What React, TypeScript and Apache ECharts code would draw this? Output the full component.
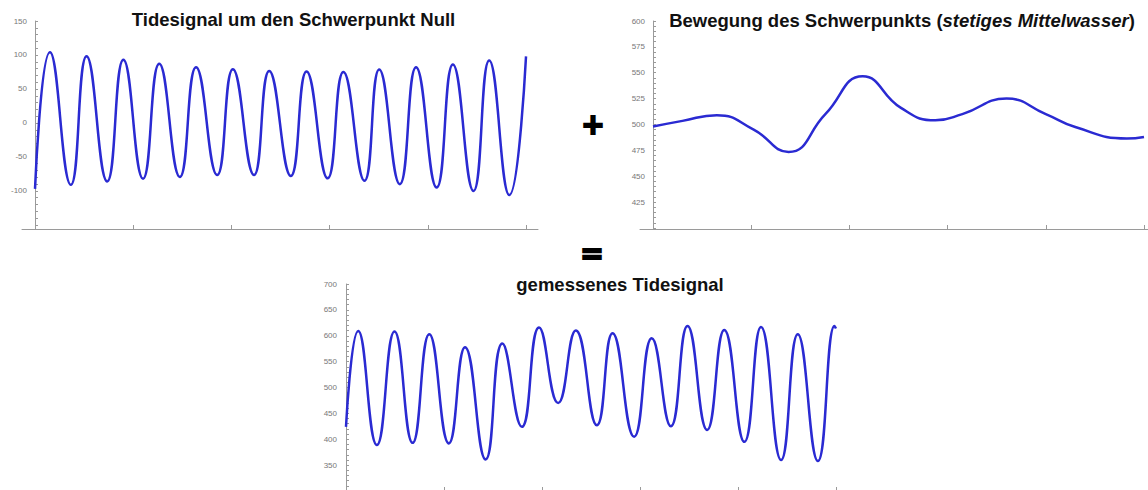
import React, { useEffect, useRef } from "react";
import * as echarts from "echarts";

// ---- data ----
// Top-left: tide signal around zero (x in sample units, ticks every 200)
const tideX = [0, 30.5, 73, 105, 147, 180, 220, 253, 295, 328, 371, 403, 446, 477, 521, 553, 596, 628, 671, 701, 743, 776, 818, 851, 893, 925, 966, 1000];
const tideY = [-97, 104, -91, 98, -86, 93, -82, 87, -79.5, 82, -76.6, 79, -76.6, 76.6, -78, 75.6, -81.5, 75, -85, 78.5, -90, 82, -95, 86, -100, 92, -106, 98];

// Top-right: movement of the centre of gravity (mean water level)
const meanX = [0, 60, 130, 205, 276, 351, 427, 505, 575, 630, 720, 800, 860, 965, 1000];
const meanY = [498, 503.5, 509, 495, 473.5, 510, 546.5, 516, 504, 510, 525, 510, 497.5, 486.5, 488];

// Bottom: measured tide signal
const measX = [0, 25, 63, 99, 136, 170, 210, 243, 285, 319, 359, 394, 433, 469, 512, 544, 588, 624, 663, 697, 737, 772, 813, 847, 888, 922, 963, 997, 1000];
const measY = [424, 609, 389, 608, 393, 603, 392, 578, 361, 585, 424, 616, 470, 610, 427, 605, 405, 595, 425, 619, 418, 611, 395, 617, 360, 603, 358, 619, 614];

// tick labels
const xTicks = [0, 200, 400, 600, 800, 1000];
const tideLabels = [-100, -50, 0, 50, 100, 150];
const meanLabels = [425, 450, 475, 500, 525, 550, 575, 600];
const measLabels = [350, 400, 450, 500, 550, 600, 650, 700];

const titleTide = "Tidesignal um den Schwerpunkt Null";
const titleMeanA = "Bewegung des Schwerpunkts (";
const titleMeanB = "stetiges Mittelwasser";
const titleMeanC = ")";
const titleMeas = "gemessenes Tidesignal";

const FONT = "'Liberation Sans', Arial, Helvetica, sans-serif";
const LINE = "#2a2ad2";
const AXIS = "#9a9a9a";
const TSIZE = 18.5;

function range(a: number, b: number, s: number) {
  const r: number[] = [];
  for (let v = a; v <= b + 1e-9; v += s) r.push(v);
  return r;
}

function pairs(xs: number[], ys: number[]) {
  return xs.map((x, i) => [x, ys[i]]);
}

export default function App() {
  const ref = useRef<HTMLDivElement>(null);
  useEffect(() => {
    if (!ref.current) return;
    const chart = echarts.init(ref.current, undefined, { renderer: "svg" });
    const xMax = [1024.4, 1032.6, 1024.5];
    const yDefs = [
      { min: -156, max: 150, labels: tideLabels, ticks: range(-150, 150, 10), margin: -5 },
      { min: 399, max: 600, labels: meanLabels, ticks: range(400, 600, 5), margin: -5 },
      { min: 300, max: 700, labels: measLabels, ticks: range(300, 700, 10), margin: -4 },
    ];
    const option: any = {
      animation: false,
      grid: [
        { left: 22, right: 610, top: 21, bottom: 261, outerBoundsMode: "none", containLabel: false },
        { left: 640, right: -12, top: 21, bottom: 261, outerBoundsMode: "none", containLabel: false },
        { left: 333, right: 300, top: 284, bottom: -1, outerBoundsMode: "none", containLabel: false },
      ],
      xAxis: [0, 1, 2].map((i) => ({
        type: "value",
        gridIndex: i,
        min: -26.5,
        max: xMax[i],
        axisLine: { onZero: false, lineStyle: { color: AXIS, width: 1 } },
        axisTick: { inside: true, length: 4, customValues: xTicks, lineStyle: { color: AXIS } },
        axisLabel: { show: false },
        splitLine: { show: false },
      })),
      yAxis: yDefs.map((d, i) => ({
        type: "value",
        gridIndex: i,
        min: d.min,
        max: d.max,
        axisLine: { show: true, onZero: true, lineStyle: { color: AXIS, width: 1 } },
        axisTick: { show: true, inside: true, length: 3, customValues: d.ticks, lineStyle: { color: AXIS } },
        axisLabel: {
          show: true,
          customValues: d.labels,
          margin: d.margin,
          fontSize: 8,
          color: "#777",
          fontFamily: FONT,
        },
        splitLine: { show: false },
      })),
      series: [
        { data: pairs(tideX, tideY), idx: 0 },
        { data: pairs(meanX, meanY), idx: 1 },
        { data: pairs(measX, measY), idx: 2 },
      ].map((s) => ({
        type: "line",
        xAxisIndex: s.idx,
        yAxisIndex: s.idx,
        data: s.data,
        smooth: 0.5,
        showSymbol: false,
        lineStyle: { color: LINE, width: 2.5 },
      })),
      graphic: [
        {
          type: "text",
          x: 293.5,
          y: 19.5,
          style: {
            text: titleTide,
            fontSize: TSIZE,
            fontWeight: "bold",
            fontFamily: FONT,
            fill: "#111",
            align: "center",
            verticalAlign: "middle",
          },
        },
        {
          type: "text",
          x: 902,
          y: 20.5,
          style: {
            text: `{n|${titleMeanA}}{i|${titleMeanB}}{n|${titleMeanC}}`,
            fontSize: TSIZE,
            fontWeight: "bold",
            fontFamily: FONT,
            fill: "#111",
            align: "center",
            verticalAlign: "middle",
            rich: {
              n: { fontSize: TSIZE, fontWeight: "bold", fontFamily: FONT, fill: "#111" },
              i: { fontSize: TSIZE, fontWeight: "bold", fontStyle: "italic", fontFamily: FONT, fill: "#111" },
            },
          },
        },
        {
          type: "text",
          x: 620,
          y: 284.5,
          style: {
            text: titleMeas,
            fontSize: TSIZE,
            fontWeight: "bold",
            fontFamily: FONT,
            fill: "#111",
            align: "center",
            verticalAlign: "middle",
          },
        },
        {
          type: "text",
          x: 593,
          y: 124,
          style: {
            text: "+",
            fontSize: 28,
            fontWeight: "bold",
            fontFamily: "'DejaVu Sans', sans-serif",
            fill: "#000",
            stroke: "#000",
            lineWidth: 2,
            align: "center",
            verticalAlign: "middle",
          },
        },
        {
          type: "text",
          x: 592,
          y: 253,
          style: {
            text: "=",
            fontSize: 28,
            fontWeight: "bold",
            fontFamily: "'DejaVu Sans', sans-serif",
            fill: "#000",
            stroke: "#000",
            lineWidth: 2,
            align: "center",
            verticalAlign: "middle",
          },
        },
      ],
    };
    chart.setOption(option);
    return () => chart.dispose();
  }, []);
  return (
    <div
      ref={ref}
      style={{ position: "absolute", left: 0, top: 0, width: 1148, height: 490, background: "#fff" }}
    />
  );
}
